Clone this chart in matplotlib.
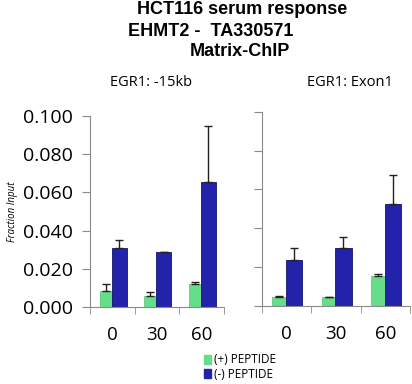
import numpy as np
import matplotlib.pyplot as plt

# time points (min after serum)
times = ['0', '30', '60']

# EGR1: -15kb
plus_15kb = [0.0084, 0.0056, 0.0119]
plus_15kb_err = [0.0035, 0.0023, 0.0010]
minus_15kb = [0.0310, 0.0290, 0.0657]
minus_15kb_err = [0.0040, 0.0000, 0.0290]

# EGR1: Exon1
plus_exon1 = [0.0046, 0.0045, 0.0156]
plus_exon1_err = [0.0007, 0.0003, 0.0007]
minus_exon1 = [0.0238, 0.0298, 0.0523]
minus_exon1_err = [0.0060, 0.0057, 0.0149]

green = '#66dd88'
blue = '#2222aa'
gray = '#8a8a8a'
tickfont = 'Open Sans'

fig = plt.figure(figsize=(4.12, 3.84), dpi=100)

def panel(rect, plus, plus_err, minus, minus_err, show_labels):
    ax = fig.add_axes(rect)
    x = np.arange(len(times))
    wg, wb = 0.27, 0.33
    ax.bar(x - 0.28, plus, width=wg, align='edge', color=green, edgecolor='#55c077', linewidth=0.5,
           yerr=[np.zeros(3), plus_err], error_kw=dict(ecolor='#222222', elinewidth=1, capsize=3, capthick=1))
    ax.bar(x - 0.01, minus, width=wb, align='edge', color=blue, edgecolor='#14146a', linewidth=0.6,
           yerr=[np.zeros(3), minus_err], error_kw=dict(ecolor='#222222', elinewidth=1, capsize=3, capthick=1))
    ax.set_xlim(-0.5, 2.5)
    ax.set_ylim(0, 0.1)
    ax.set_yticks([0, 0.02, 0.04, 0.06, 0.08, 0.1])
    if show_labels:
        ax.set_yticklabels(['0.000', '0.020', '0.040', '0.060', '0.080', '0.100'],
                           fontsize=14, family=tickfont)
    else:
        ax.set_yticklabels([])
    ax.set_xticks(x)
    ax.set_xticklabels(times, fontsize=13.5, family=tickfont)
    ax.set_xticks([-0.5, 0.5, 1.5, 2.5], minor=True)
    ax.tick_params(axis='x', which='major', length=0, pad=14)
    ax.tick_params(axis='x', which='minor', length=5, color=gray, direction='out')
    ax.tick_params(axis='y', length=6, color=gray, direction='out', pad=6)
    for s in ['top', 'right']:
        ax.spines[s].set_visible(False)
    for s in ['left', 'bottom']:
        ax.spines[s].set_color(gray)
    return ax

ax1 = panel([0.2184, 0.2005, 0.325, 0.497], plus_15kb, plus_15kb_err, minus_15kb, minus_15kb_err, True)
ax2 = panel([0.635, 0.203, 0.36, 0.506], plus_exon1, plus_exon1_err, minus_exon1, minus_exon1_err, False)

ax1.set_ylabel('Fraction Input', fontsize=7, style='italic', family=tickfont, labelpad=4)

# titles
fig.text(242/412, 1 - 9.5/384, 'HCT116 serum response', ha='center', va='center',
         fontsize=13, weight='bold', family='Liberation Sans')
fig.text(128/412, 1 - 31/384, 'EHMT2 -  TA330571', ha='left', va='center',
         fontsize=13, weight='bold', family='Liberation Sans')
fig.text(240/412, 1 - 52/384, 'Matrix-ChIP', ha='center', va='center',
         fontsize=13, weight='bold', family='Liberation Sans')
fig.text(151/412, 1 - 83/384, 'EGR1: -15kb', ha='center', va='center', fontsize=10.5, family=tickfont)
fig.text(350/412, 1 - 83/384, 'EGR1: Exon1', ha='center', va='center', fontsize=10.5, family=tickfont)

# legend
handles = [plt.Rectangle((0, 0), 1, 1, color=green), plt.Rectangle((0, 0), 1, 1, color=blue)]
fig.legend(handles, ['(+) PEPTIDE', '(-) PEPTIDE'], loc='center left', bbox_to_anchor=(193/412, 1 - 367/384),
           frameon=False, prop=dict(family=tickfont, size=8.5), handlelength=0.6, handleheight=0.8,
           handletextpad=0.3, labelspacing=0.1)

fig.savefig('out.png', dpi=100)
